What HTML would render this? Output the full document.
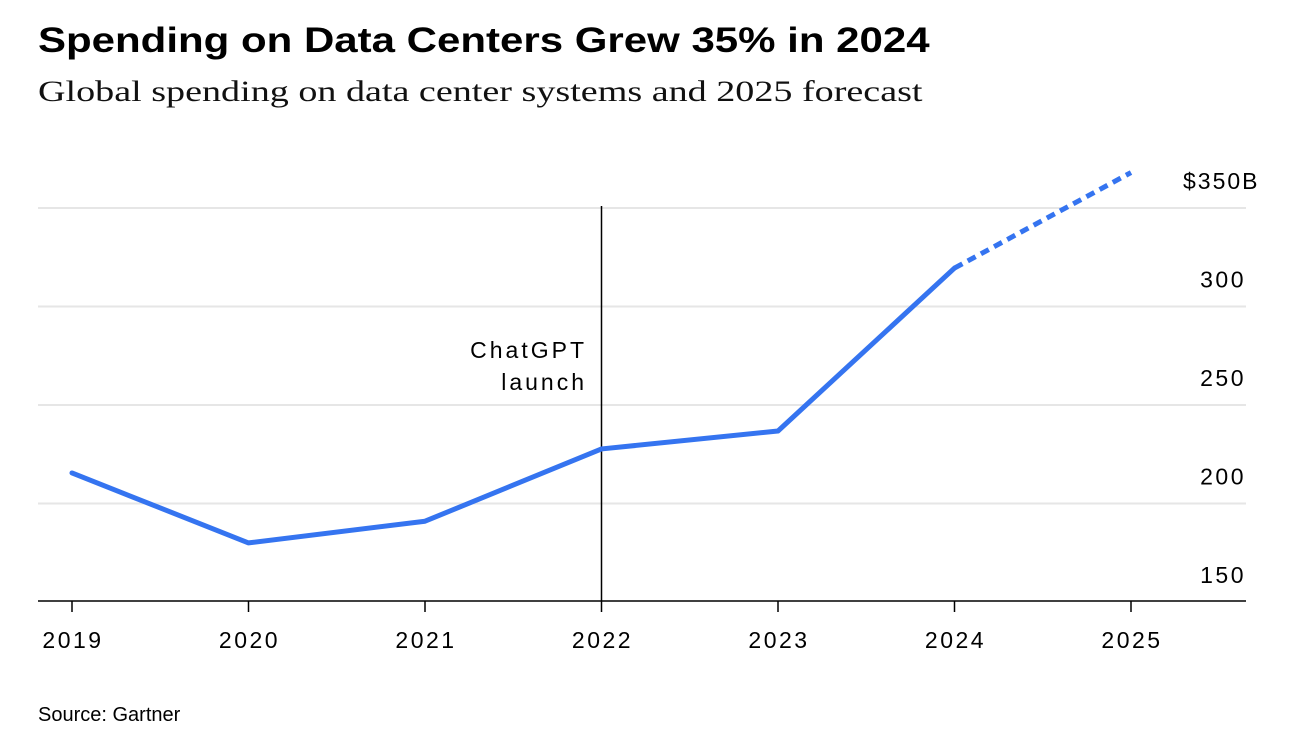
<!DOCTYPE html>
<html><head><meta charset="utf-8">
<style>
body{margin:0;background:#fff;width:1304px;height:752px;overflow:hidden;font-family:"Liberation Sans",sans-serif;}
h1{position:absolute;left:38px;top:21px;margin:0;font-size:35px;font-weight:bold;color:#000;white-space:nowrap;transform:scaleX(1.2);transform-origin:left top}
h2{position:absolute;left:38px;top:75px;margin:0;font-family:"Liberation Serif",serif;font-weight:normal;font-size:30px;color:#111;white-space:nowrap;transform:scaleX(1.27);transform-origin:left top}
#src{position:absolute;left:38px;top:704px;font-size:20px;color:#000}
svg{position:absolute;left:0;top:0}
</style></head><body>
<h1>Spending on Data Centers Grew 35% in 2024</h1>
<h2>Global spending on data center systems and 2025 forecast</h2>
<div id="src">Source: Gartner</div>
<svg id="chart" width="1304" height="752"></svg>
<script>
const years=["2019","2020","2021","2022","2023","2024","2025"];
const values=[215.5,180,191,227.7,236.8,319.5,368];
const yTicks=[150,200,250,300,350];
const yTickLabels=["150","200","250","300","$350B"];
const NS="http://www.w3.org/2000/svg";
const svg=document.getElementById("chart");
const x=i=>72+i*176.5;
const y=v=>602-(v-150)*1.97;
function mk(t,a){const e=document.createElementNS(NS,t);for(const k in a)e.setAttribute(k,a[k]);svg.appendChild(e);return e;}
yTicks.forEach((t,i)=>{
  if(t!==150){const g=mk("line",{x1:38,x2:1246,y1:y(t),y2:y(t),stroke:"#e6e6e6","stroke-width":2});
  
  }
  const last=i===yTicks.length-1;
  const l=mk("text",last?{x:1183,y:y(t)-19,"text-anchor":"start","font-size":23,"letter-spacing":"2px",fill:"#000"}:{x:1246,y:y(t)-19,"text-anchor":"end","font-size":23,"letter-spacing":"2.5px",fill:"#000"});
  l.textContent=yTickLabels[i];
  
  
});
const ax=mk("line",{x1:38,x2:1246,y1:601,y2:601,stroke:"#000","stroke-width":1.5});


years.forEach((yr,i)=>{
  const tk=mk("line",{x1:x(i),x2:x(i),y1:601,y2:612,stroke:"#000","stroke-width":1.5});
  
  
  const l=mk("text",{x:x(i)+1,y:648,"text-anchor":"middle","font-size":23,"letter-spacing":"2.5px",fill:"#000"});
  l.textContent=yr;
  
  
});
const ann=mk("line",{x1:x(3),x2:x(3),y1:206,y2:601,stroke:"#000","stroke-width":1.5});


[["ChatGPT",358],["launch",390]].forEach(([t,yy])=>{
  const e=mk("text",{x:587,y:yy,"text-anchor":"end","font-size":23,"letter-spacing":"3px",fill:"#000"});e.textContent=t;
  
  
});
let d="";for(let i=0;i<=5;i++)d+=(i?"L":"M")+x(i)+","+y(values[i]);
const ln=mk("path",{d:d,fill:"none",stroke:"#3574f0","stroke-width":5,"stroke-linejoin":"round","stroke-linecap":"round"});


const fc=mk("path",{d:"M"+x(5)+","+y(values[5])+"L"+x(6)+","+y(values[6]),fill:"none",stroke:"#3574f0","stroke-width":5,"stroke-dasharray":"9 6","stroke-linecap":"butt"});


</script>
</body></html>
